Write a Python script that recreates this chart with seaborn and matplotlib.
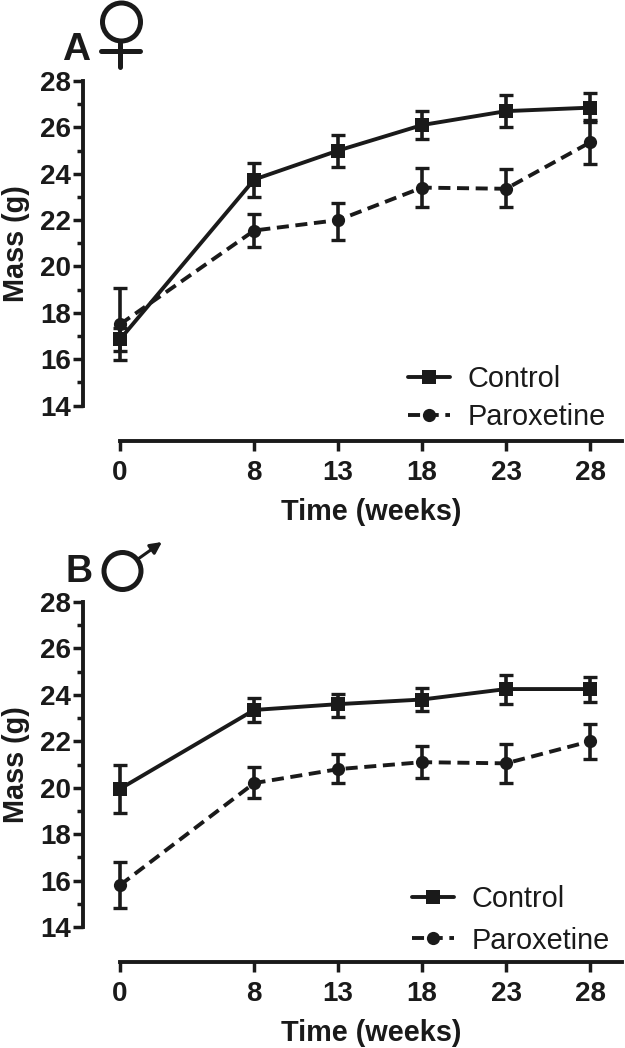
import numpy as np
import pandas as pd
import matplotlib
matplotlib.use('Agg')
import matplotlib.pyplot as plt
from matplotlib.lines import Line2D
from matplotlib.patches import Circle
import seaborn as sns

weeks = [0, 8, 13, 18, 23, 28]
yticks = [14, 16, 18, 20, 22, 24, 26, 28]

# panel A (female)
a_control = [16.85, 23.75, 25.0, 26.1, 26.7, 26.85]
a_control_hi = [17.35, 24.45, 25.65, 26.7, 27.4, 27.5]
a_control_lo = [16.35, 23.0, 24.3, 25.5, 26.0, 26.25]
a_parox = [17.5, 21.55, 22.0, 23.4, 23.35, 25.35]
a_parox_hi = [19.05, 22.25, 22.75, 24.25, 24.2, 26.3]
a_parox_lo = [15.95, 20.85, 21.15, 22.55, 22.55, 24.4]

# panel B (male)
b_control = [19.95, 23.35, 23.6, 23.8, 24.25, 24.25]
b_control_hi = [21.0, 23.85, 24.05, 24.3, 24.85, 24.75]
b_control_lo = [18.9, 22.85, 23.05, 23.3, 23.6, 23.7]
b_parox = [15.8, 20.2, 20.8, 21.1, 21.05, 22.0]
b_parox_hi = [16.8, 20.9, 21.45, 21.8, 21.9, 22.75]
b_parox_lo = [14.8, 19.55, 20.2, 20.4, 20.2, 21.25]

INK = '#1a1a1a'
W, H = 625, 1048

sns.set_theme(style='ticks')
plt.rcParams['font.family'] = ['Liberation Sans', 'DejaVu Sans']

fig = plt.figure(figsize=(W / 100, H / 100), dpi=100)


def px(x, y):
    # pixel position from the top left -> figure fraction
    return x / W, 1 - y / H


def draw_panel(top, bottom, control, c_hi, c_lo, parox, p_hi, p_lo, leg_xy, leg_space):
    left, right = 83, 622
    ax = fig.add_axes([left / W, 1 - bottom / H, (right - left) / W, (bottom - top) / H])
    df = pd.DataFrame({
        'week': weeks * 2,
        'mass': control + parox,
        'group': ['Control'] * 6 + ['Paroxetine'] * 6,
    })
    for vals, hi, lo in [(control, c_hi, c_lo), (parox, p_hi, p_lo)]:
        ax.errorbar(weeks, vals, yerr=[np.array(vals) - np.array(lo), np.array(hi) - np.array(vals)],
                    fmt='none', ecolor=INK, elinewidth=2.6, capsize=4.8, capthick=2.4, zorder=2)
    sns.lineplot(data=df, x='week', y='mass', style='group', ax=ax, color=INK, linewidth=2.8,
                 style_order=['Control', 'Paroxetine'],
                 dashes={'Control': '', 'Paroxetine': (3.1, 1.7)},
                 markers={'Control': 's', 'Paroxetine': 'o'},
                 markersize=9.5, markeredgewidth=0, errorbar=None, zorder=3)

    ax.set_xlim(-37 / 16.82, (right - 119) / 16.82)
    ax.set_ylim(14, 28)
    ax.set_xticks(weeks)
    ax.set_yticks(yticks)
    ax.set_yticks(np.arange(15, 28, 2), minor=True)
    for s in ['top', 'right']:
        ax.spines[s].set_visible(False)
    ax.spines['left'].set_linewidth(2.8)
    ax.spines['bottom'].set_linewidth(2.8)
    ax.spines['left'].set_color(INK)
    ax.spines['bottom'].set_color(INK)
    ax.spines['bottom'].set_position(('outward', 25.5))
    ax.spines['bottom'].set_bounds(0, (right - 119) / 16.82)
    ax.tick_params(axis='both', which='major', length=7.5, width=2.5, color=INK, labelcolor=INK, labelsize=20)
    ax.tick_params(axis='y', which='minor', length=4.5, width=2.5, color=INK)
    ax.tick_params(axis='y', which='major', pad=1)
    ax.tick_params(axis='x', which='major', pad=6)
    for t in ax.get_xticklabels() + ax.get_yticklabels():
        t.set_fontweight('bold')

    ax.set_xlabel('Time (weeks)', fontsize=20.8, fontweight='bold', color=INK, va='center')
    ax.set_ylabel('Mass (g)', fontsize=20.8, fontweight='bold', color=INK, va='center')
    ax.xaxis.set_label_coords(*px(371, bottom + 106), transform=fig.transFigure)
    ax.yaxis.set_label_coords(*px(16.5, top + 163), transform=fig.transFigure)

    handles, labels = ax.get_legend_handles_labels()
    ax.legend(handles, labels, loc='upper left', bbox_to_anchor=px(*leg_xy), bbox_transform=fig.transFigure,
              frameon=False, fontsize=20.8, handlelength=1.45, handletextpad=0.62,
              labelspacing=leg_space, borderpad=0, borderaxespad=0, labelcolor=INK)
    return ax


draw_panel(81, 405.5, a_control, a_control_hi, a_control_lo, a_parox, a_parox_hi, a_parox_lo, (408, 365), 0.35)
draw_panel(602, 927, b_control, b_control_hi, b_control_lo, b_parox, b_parox_hi, b_parox_lo, (412, 885), 0.47)

fig.text(*px(62.5, 60), 'A', fontsize=28, fontweight='bold', color=INK, ha='left', va='baseline')
fig.text(*px(66, 582), 'B', fontsize=27, fontweight='bold', color=INK, ha='left', va='baseline')

# overlay in pixel coordinates for the sex symbols
ov = fig.add_axes([0, 0, 1, 1], zorder=5)
ov.set_xlim(0, W)
ov.set_ylim(H, 0)
ov.axis('off')
ov.add_patch(Circle((121.5, 22), 19, fill=False, ec=INK, lw=3.6))
ov.add_line(Line2D([120, 120], [43, 67], color=INK, lw=3.6, solid_capstyle='round'))
ov.add_line(Line2D([101, 140], [50.5, 50.5], color=INK, lw=3.6, solid_capstyle='round'))
ov.add_patch(Circle((122.5, 571), 18.5, fill=False, ec=INK, lw=3.6))
ov.annotate('', xy=(162, 542), xytext=(138, 559),
            arrowprops=dict(arrowstyle='-|>', color=INK, lw=2.2, mutation_scale=17, shrinkA=0, shrinkB=0))

fig.savefig('out.png', dpi=100)
